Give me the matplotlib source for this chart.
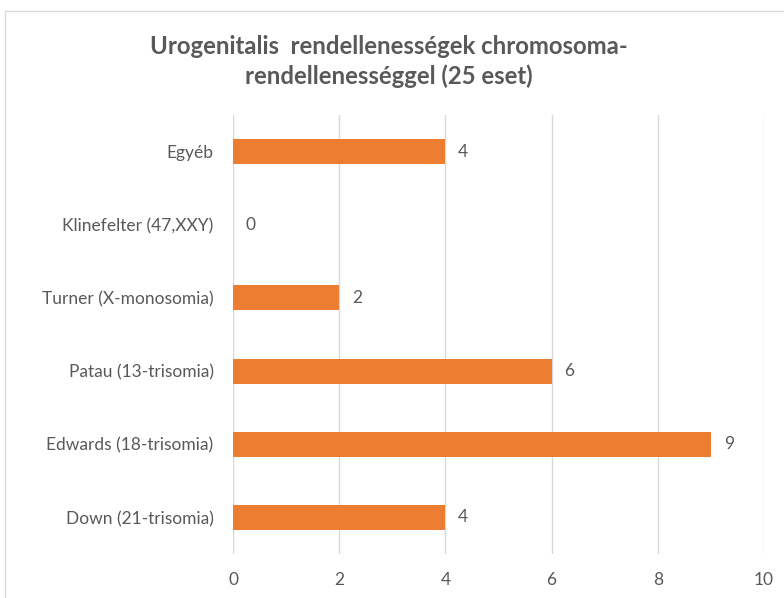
import matplotlib.pyplot as plt
from matplotlib.patches import Rectangle

categories = ['Down (21-trisomia)', 'Edwards (18-trisomia)', 'Patau (13-trisomia)',
              'Turner (X-monosomia)', 'Klinefelter (47,XXY)', 'Egyéb']
values = [4, 9, 6, 2, 0, 4]
xticks = [0, 2, 4, 6, 8, 10]

plt.rcParams['font.family'] = ['Lato', 'DejaVu Sans']
txt = '#595959'

fig = plt.figure(figsize=(7.84, 5.98), dpi=100)
ax = fig.add_axes([0.2972, 0.0736, 0.6773, 0.7341])

y = range(len(categories))
ax.barh(y, values, height=0.34, color='#ED7D31', zorder=3)
for yi, v in zip(y, values):
    ax.text(v + 0.24, yi, str(v), va='center', ha='left', fontsize=12.5, color=txt)

ax.set_xlim(0, 10)
ax.set_ylim(-0.5, 5.5)
ax.set_xticks(xticks)
ax.set_yticks(list(y))
ax.set_yticklabels(categories)
ax.tick_params(length=0, labelsize=12.5, colors=txt)
ax.tick_params(axis='x', pad=13)
ax.tick_params(axis='y', pad=14)
ax.grid(axis='x', color='#D9D9D9', linewidth=1, zorder=0)
for s in ax.spines.values():
    s.set_visible(False)

fig.text(0.496, 0.897, 'Urogenitalis  rendellenességek chromosoma-\nrendellenességgel (25 eset)',
         ha='center', va='center', fontsize=17.2, fontweight='bold', color=txt, linespacing=1.3)

fig.patches.append(Rectangle((5 / 784, -0.1), 1.2, 1 - 11 / 598 + 0.1, transform=fig.transFigure,
                             fill=False, edgecolor='#D9D9D9', linewidth=1))

fig.savefig('out.png', dpi=100)
